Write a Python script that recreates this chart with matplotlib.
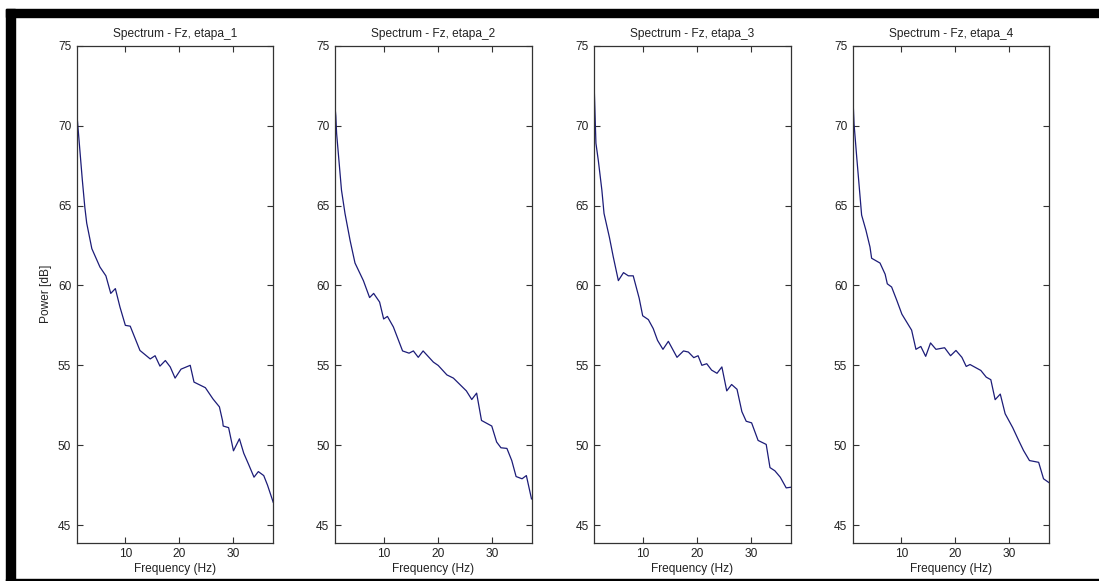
import matplotlib.pyplot as plt
from matplotlib.patches import Rectangle

# values (Hz, dB)
freq_1 = [1.0, 1.1, 2.04, 2.5, 2.85, 3.8, 5.3, 6.4, 7.3, 8.15, 9.0, 10.0, 10.9, 12.7, 14.6,
          15.5, 16.4, 17.4, 18.3, 19.2, 20.3, 22.0, 22.7, 24.8, 26.2, 27.4, 28.0, 28.1, 29.1,
          30.0, 31.1, 31.9, 32.8, 33.8, 34.6, 35.6, 36.3, 37.35]
power_1 = [70.6, 70.45, 66.6, 64.9, 63.9, 62.3, 61.15, 60.6, 59.5, 59.8, 58.65, 57.5, 57.45,
           55.93, 55.4, 55.6, 54.95, 55.3, 54.9, 54.2, 54.76, 55.0, 53.95, 53.6, 52.9, 52.4,
           51.5, 51.2, 51.1, 49.65, 50.4, 49.5, 48.8, 48.0, 48.35, 48.1, 47.5, 46.43]

freq_2 = [1.0, 1.15, 1.3, 2.2, 2.85, 3.8, 4.7, 6.25, 7.4, 8.15, 9.25, 10.0, 10.7, 11.8, 13.5,
          14.7, 15.5, 16.4, 17.3, 19.2, 20.1, 21.7, 22.9, 25.3, 26.3, 27.2, 28.1, 30.0, 30.9,
          31.7, 32.8, 33.7, 34.5, 35.6, 36.4, 37.35]
power_2 = [71.2, 70.6, 69.5, 65.96, 64.5, 62.8, 61.4, 60.3, 59.24, 59.5, 58.96, 57.9, 58.06,
           57.4, 55.9, 55.76, 55.9, 55.5, 55.9, 55.2, 54.99, 54.4, 54.2, 53.4, 52.86, 53.26,
           51.55, 51.2, 50.2, 49.84, 49.8, 49.04, 48.04, 47.9, 48.1, 46.64]

freq_3 = [1.0, 1.3, 1.75, 2.4, 2.8, 3.8, 4.5, 5.45, 6.4, 7.3, 8.2, 9.3, 9.95, 11.0, 11.9,
          12.7, 13.7, 14.7, 16.3, 17.5, 18.4, 19.4, 20.2, 20.9, 21.8, 22.7, 23.7, 24.6, 25.5,
          26.4, 27.4, 28.3, 29.1, 30.1, 31.3, 32.8, 33.5, 34.4, 35.4, 36.5, 37.35]
power_3 = [72.2, 68.9, 67.8, 65.96, 64.5, 63.0, 61.8, 60.3, 60.8, 60.6, 60.6, 59.2, 58.1,
           57.86, 57.3, 56.56, 56.0, 56.5, 55.5, 55.9, 55.83, 55.48, 55.6, 55.0, 55.1, 54.7,
           54.5, 54.9, 53.4, 53.8, 53.5, 52.1, 51.5, 51.4, 50.3, 50.05, 48.6, 48.4, 48.0,
           47.33, 47.37]

freq_4 = [1.0, 1.25, 1.75, 2.2, 2.65, 3.45, 4.2, 4.5, 6.05, 7.0, 7.4, 8.2, 9.15, 10.1, 11.0,
          11.9, 12.7, 13.6, 14.5, 15.4, 16.4, 18.0, 19.1, 20.1, 21.2, 22.0, 22.7, 24.7, 25.7,
          26.55, 27.35, 28.3, 29.2, 30.6, 31.7, 32.6, 33.7, 35.4, 36.3, 37.35]
power_4 = [72.1, 70.1, 68.0, 66.2, 64.4, 63.45, 62.4, 61.7, 61.4, 60.7, 60.1, 59.9, 59.07,
           58.2, 57.7, 57.2, 56.0, 56.18, 55.56, 56.4, 56.0, 56.1, 55.6, 55.93, 55.5, 54.93,
           55.05, 54.68, 54.26, 54.1, 52.85, 53.2, 51.97, 51.1, 50.3, 49.67, 49.04, 48.93,
           47.9, 47.65]

titles = ['Spectrum - Fz, etapa_1', 'Spectrum - Fz, etapa_2',
          'Spectrum - Fz, etapa_3', 'Spectrum - Fz, etapa_4']
freqs = [freq_1, freq_2, freq_3, freq_4]
powers = [power_1, power_2, power_3, power_4]

plt.rcParams['font.family'] = ['Liberation Sans', 'DejaVu Sans']
fs = 8.6

W, H = 1099, 581
fig = plt.figure(figsize=(W / 100, H / 100), dpi=100)
fig.patch.set_facecolor('white')

lefts = [76.7, 335, 594.3, 852.7]
for i in range(4):
    ax = fig.add_axes([lefts[i] / W, 38.3 / H, 196.5 / W, 497 / H])
    ax.plot(freqs[i], powers[i], color='#1c1c78', lw=0.9)
    ax.set_xlim(1, 37.35)
    ax.set_ylim(43.9, 75)
    ax.set_xticks([10, 20, 30])
    ax.set_yticks([45, 50, 55, 60, 65, 70, 75])
    ax.tick_params(direction='in', length=4.5, width=0.8, top=True, right=True,
                   colors='#333333', labelcolor='#222222', labelsize=fs, pad=4)
    for s in ax.spines.values():
        s.set_color('#333333')
        s.set_linewidth(0.9)
    ax.set_title(titles[i], fontsize=fs, color='#222222', pad=6)
    ax.set_xlabel('Frequency (Hz)', fontsize=fs, color='#222222', labelpad=2)
    if i == 0:
        ax.set_ylabel('Power [dB]', fontsize=fs, color='#222222', labelpad=4)

# black frame from the screenshot
fig.patches.append(Rectangle((6 / W, 0), 9 / W, 1 - 9 / H, transform=fig.transFigure,
                             color='black', zorder=10))
fig.patches.append(Rectangle((6 / W, 1 - 17 / H), 1, 8 / H, transform=fig.transFigure,
                             color='black', zorder=10))
fig.patches.append(Rectangle((6 / W, 0), 1, 2.5 / H, transform=fig.transFigure,
                             color='black', zorder=10))

plt.savefig('out.png', dpi=100)
